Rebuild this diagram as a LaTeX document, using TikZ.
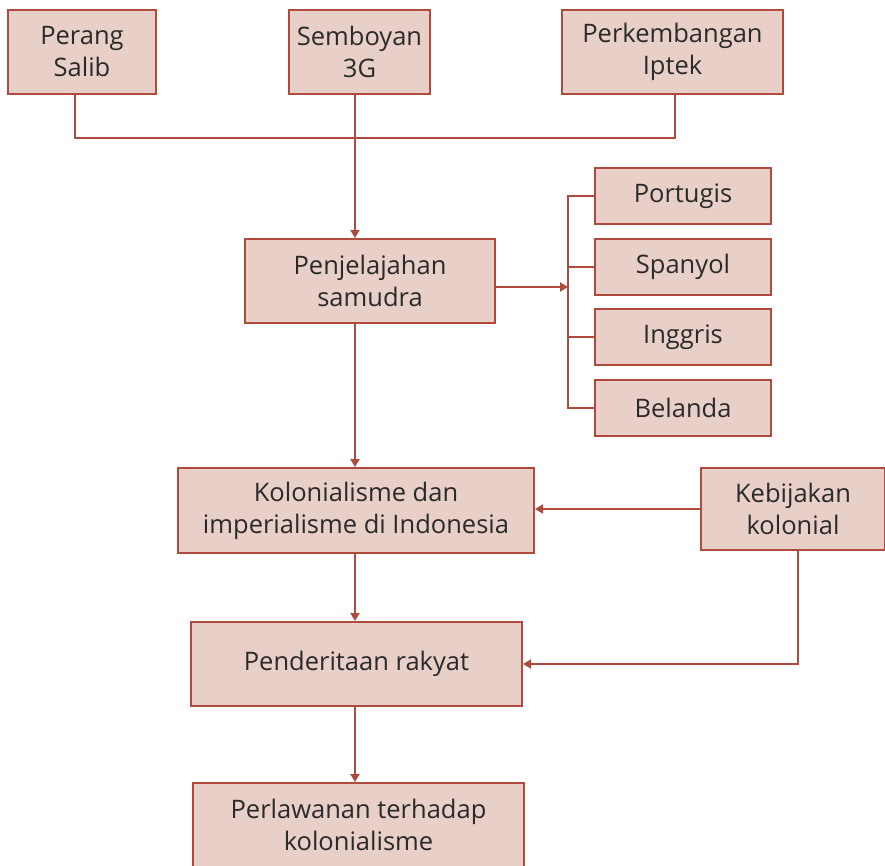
\documentclass[tikz,border=0pt]{standalone}
\usepackage{fontspec}
\setmainfont{Open Sans}
\usetikzlibrary{arrows.meta}
\definecolor{bfill}{HTML}{E8D0C8}
\definecolor{bline}{HTML}{B04A3C}
\definecolor{btext}{HTML}{2A2A2A}
\begin{document}
\begin{tikzpicture}[x=1pt,y=-1pt,
  box/.style={draw=bline,fill=bfill,line width=2pt,text=btext,font=\fontsize{25.5}{32}\selectfont,align=center,inner sep=0pt},
  conn/.style={draw=bline,line width=2pt},
  arr/.style={conn,-{Triangle[length=8pt,width=9pt]}}]
\useasboundingbox (0,0) rectangle (885,865);
\node[box,minimum width=148pt,minimum height=84pt] (perang) at (82,52) {Perang\\Salib};
\node[box,minimum width=141pt,minimum height=84pt] (semb) at (359.5,52) {Semboyan\\3G};
\node[box,minimum width=221pt,minimum height=84pt] (iptek) at (672.5,52) {Perkembangan\\Iptek};
\node[box,minimum width=250pt,minimum height=84pt] (pen) at (370,281) {Penjelajahan\\samudra};
\node[box,minimum width=176pt,minimum height=56pt] (port) at (683,196) {Portugis};
\node[box,minimum width=176pt,minimum height=56pt] (span) at (683,267) {Spanyol};
\node[box,minimum width=176pt,minimum height=56pt] (ingg) at (683,337) {Inggris};
\node[box,minimum width=176pt,minimum height=56pt] (bel) at (683,408) {Belanda};
\node[box,minimum width=356pt,minimum height=85pt] (kol) at (356,510.5) {Kolonialisme dan\\imperialisme di Indonesia};
\node[box,minimum width=184pt,minimum height=82pt] (keb) at (793,509) {Kebijakan\\kolonial};
\node[box,minimum width=331pt,minimum height=84pt] (pend) at (356.5,664) {Penderitaan rakyat};
\node[box,minimum width=331pt,minimum height=84pt] (perl) at (358.5,825) {Perlawanan terhadap\\kolonialisme};
\coordinate (j) at (355,138);
\coordinate (br) at (568,287);
\draw[conn] (perang.south -| 75,0) |- (j) -| (iptek.south -| 675,0);
\draw[arr] (semb.south -| j) -- (pen.north -| j);
\draw[conn] (port.west) -| (bel.west -| br) -- (bel.west);
\draw[conn] (span.west -| br) -- (span.west);
\draw[conn] (ingg.west -| br) -- (ingg.west);
\draw[arr] (pen.east |- br) -- (br);
\draw[arr] (pen.south -| j) -- (kol.north -| j);
\draw[arr] (keb.west) -- (kol.east |- keb.west);
\draw[arr] (kol.south -| j) -- (pend.north -| j);
\draw[arr] (keb.south -| 798,0) |- (pend.east);
\draw[arr] (pend.south -| j) -- (perl.north -| j);
\end{tikzpicture}
\end{document}
